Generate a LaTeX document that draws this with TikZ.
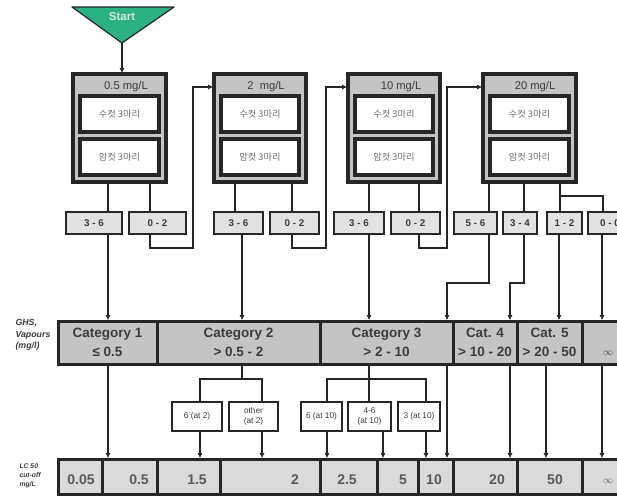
\documentclass[tikz,border=0pt]{standalone}
\usepackage{fontspec}
\setmainfont{Liberation Sans}
\newfontfamily\kofont{Noto Sans CJK KR}
\usetikzlibrary{arrows.meta}

\definecolor{lineclr}{HTML}{262626}
\definecolor{boxgrey}{HTML}{C4C4C4}
\definecolor{rangegrey}{HTML}{E2E2E2}
\definecolor{lcgrey}{HTML}{DADADA}
\definecolor{startgreen}{RGB}{44,178,130}
\definecolor{starttxt}{RGB}{215,232,224}
\definecolor{txt}{HTML}{3C3C3C}

\tikzset{
  conn/.style={draw=lineclr, line width=2.7pt},
  arr/.style={conn, -{Latex[length=5pt,width=5pt]}, shorten >=0.8pt},
  stagebox/.style={draw=lineclr, fill=boxgrey, line width=3.4pt},
  animalbox/.style={draw=lineclr, fill=white, line width=3.2pt,
    font=\kofont\fontsize{9.2}{10}\selectfont, text=txt!75},
  headtext/.style={font=\fontsize{11.2}{12}\selectfont, text=txt},
  rangebox/.style={draw=lineclr, fill=rangegrey, line width=2.9pt,
    font=\bfseries\fontsize{9.8}{11}\selectfont, text=txt},
  catbox/.style={draw=lineclr, fill=boxgrey, line width=3pt, align=center,
    font=\bfseries\fontsize{13.5}{18.5}\selectfont, text=txt},
  lcbox/.style={draw=lineclr, fill=lcgrey, line width=3pt},
  lctext/.style={font=\bfseries\fontsize{14}{15}\selectfont, text=txt!85},
  subbox/.style={draw=lineclr, fill=white, line width=2.7pt, align=center,
    font=\fontsize{8.3}{9.5}\selectfont, text=txt},
  sidelabel/.style={align=left, text=txt},
}

% rectangle node given by its top-left and bottom-right corners
\newcommand\mkcell[7][]{%
  \node[#1, anchor=north west, inner sep=0pt, outer sep=0pt,
        minimum width={(#5-#3)*1pt}, minimum height={(#6-#4)*1pt}]
        (#2) at (#3,#4) {#7};}

\begin{document}
\begin{tikzpicture}[x=1pt, y=-1pt]
\useasboundingbox (0,0) rectangle (617,496);
\fill[white] (0,0) rectangle (617,496);
\clip (0,0) rectangle (617,496);

% x positions of the vertical connectors
\foreach \xx in {108,150,200,235,242,262,292,327,369,383,419,426,447,489,510,524,546,559,560,602,603}
  \coordinate (x\xx) at (\xx,0);
% elbow points
\coordinate (j1) at (193,248);
\coordinate (j2) at (326,248);
\coordinate (j3) at (447,248);
\coordinate (j4) at (560,196);
\coordinate (j5) at (447,283);
\coordinate (j6) at (510,283);
\coordinate (j7) at (242,379);
\coordinate (j8) at (369,379);

% start marker
\path[fill=startgreen, draw=lineclr, line width=1.2pt, line join=round]
  (72,7) -- (174,7) -- (122,43) -- cycle;
\node[font=\bfseries\fontsize{11.5}{12}\selectfont, text=starttxt] (start) at (122,17) {Start};
\coordinate (apex) at (122,43);

% test stages
\mkcell[stagebox]{b1}{73}{74}{166}{182}{}
\mkcell[stagebox]{b2}{214}{74}{306}{182}{}
\mkcell[stagebox]{b3}{348}{74}{440}{182}{}
\mkcell[stagebox]{b4}{483}{74}{576}{182}{}
\node[headtext] (h1) at (126,87) {0.5 mg/L};
\node[headtext] (h2) at (266,87) {2\ \ mg/L};
\node[headtext] (h3) at (401,87) {10 mg/L};
\node[headtext] (h4) at (535,87) {20 mg/L};
\mkcell[animalbox]{m1}{80}{96}{159}{132}{수컷 3마리}
\mkcell[animalbox]{f1}{80}{139}{159}{175}{암컷 3마리}
\mkcell[animalbox]{m2}{221}{96}{299}{132}{수컷 3마리}
\mkcell[animalbox]{f2}{221}{139}{299}{175}{암컷 3마리}
\mkcell[animalbox]{m3}{355}{96}{433}{132}{수컷 3마리}
\mkcell[animalbox]{f3}{355}{139}{433}{175}{암컷 3마리}
\mkcell[animalbox]{m4}{490}{96}{569}{132}{수컷 3마리}
\mkcell[animalbox]{f4}{490}{139}{569}{175}{암컷 3마리}

% mortality ranges
\mkcell[rangebox]{r1a}{66}{212}{122}{234}{3 - 6}
\mkcell[rangebox]{r1b}{129}{212}{186}{234}{0 - 2}
\mkcell[rangebox]{r2a}{214}{212}{263}{234}{3 - 6}
\mkcell[rangebox]{r2b}{270}{212}{319}{234}{0 - 2}
\mkcell[rangebox]{r3a}{334}{212}{384}{234}{3 - 6}
\mkcell[rangebox]{r3b}{391}{212}{440}{234}{0 - 2}
\mkcell[rangebox]{r4a}{454}{212}{497}{234}{5 - 6}
\mkcell[rangebox]{r4b}{503}{212}{537}{234}{3 - 4}
\mkcell[rangebox]{r4c}{547}{212}{582}{234}{1 - 2}
\mkcell[rangebox]{r4d}{588}{212}{632}{234}{0 - 0}

% GHS categories
\mkcell[catbox]{k1}{58}{321}{157}{364}{Category 1\\≤ 0.5}
\mkcell[catbox]{k2}{157}{321}{320}{364}{Category 2\\> 0.5 - 2}
\mkcell[catbox]{k3}{320}{321}{453}{364}{Category 3\\> 2 - 10}
\mkcell[catbox]{k4}{453}{321}{517}{364}{Cat. 4\\> 10 - 20}
\mkcell[catbox]{k5}{517}{321}{582}{364}{Cat. 5\\> 20 - 50}
\mkcell[catbox]{k6}{582}{321}{640}{364}{}
\node[font=\bfseries\fontsize{10}{11}\selectfont, text=txt] (kinf) at (608,353) {$\infty$};

% deaths at a given concentration
\mkcell[subbox]{s2a}{172}{402}{222}{431}{6 (at 2)}
\mkcell[subbox]{s2b}{229}{402}{278}{431}{other\\(at 2)}
\mkcell[subbox]{s3a}{301}{402}{342}{431}{6 (at 10)}
\mkcell[subbox]{s3b}{348}{402}{391}{431}{4-6\\(at 10)}
\mkcell[subbox]{s3c}{398}{402}{440}{431}{3 (at 10)}

% LC50 cut-off values
\mkcell[lcbox]{l1}{58}{459}{102}{494}{}
\mkcell[lcbox]{l2}{102}{459}{157}{494}{}
\mkcell[lcbox]{l3}{157}{459}{220}{494}{}
\mkcell[lcbox]{l4}{220}{459}{320}{494}{}
\mkcell[lcbox]{l5}{320}{459}{377}{494}{}
\mkcell[lcbox]{l6}{377}{459}{418}{494}{}
\mkcell[lcbox]{l7}{418}{459}{453}{494}{}
\mkcell[lcbox]{l8}{453}{459}{517}{494}{}
\mkcell[lcbox]{l9}{517}{459}{582}{494}{}
\mkcell[lcbox]{l10}{582}{459}{640}{494}{}
\node[lctext] (v1) at (81,480) {0.05};
\node[lctext] (v2) at (139,480) {0.5};
\node[lctext] (v3) at (197,480) {1.5};
\node[lctext] (v4) at (295,480) {2};
\node[lctext] (v5) at (347,480) {2.5};
\node[lctext] (v6) at (403,480) {5};
\node[lctext] (v7) at (434,480) {10};
\node[lctext] (v8) at (497,480) {20};
\node[lctext] (v9) at (555,480) {50};
\node[lctext, font=\bfseries\fontsize{10}{11}\selectfont] (v10) at (608,481) {$\infty$};

% row labels
\node[sidelabel, anchor=north west, font=\bfseries\itshape\fontsize{8.8}{11.5}\selectfont] (ghs) at (12,316) {GHS,\\Vapours\\(mg/l)};
\node[sidelabel, anchor=north west, font=\bfseries\itshape\fontsize{6.8}{9}\selectfont] (lcl) at (16,460) {LC 50\\cut-off\\mg/L};

% ---- connectors ----
\draw[arr] (apex) -- (b1.north -| apex);

\draw[conn] (b1.south -| x108) -- (r1a.north -| x108);
\draw[conn] (b1.south -| x150) -- (r1b.north -| x150);
\draw[arr] (r1a.south -| x108) -- (k1.north -| x108);
\draw[arr] (r1b.south -| x150) |- (j1) |- (b2.west |- h2);

\draw[conn] (b2.south -| x235) -- (r2a.north -| x235);
\draw[conn] (b2.south -| x292) -- (r2b.north -| x292);
\draw[arr] (r2a.south -| x242) -- (k2.north -| x242);
\draw[arr] (r2b.south -| x292) |- (j2) |- (b3.west |- h3);

\draw[conn] (b3.south -| x369) -- (r3a.north -| x369);
\draw[conn] (b3.south -| x419) -- (r3b.north -| x419);
\draw[arr] (r3a.south -| x369) -- (k3.north -| x369);
\draw[arr] (r3b.south -| x419) |- (j3) |- (b4.west |- h4);

\draw[conn] (b4.south -| x489) -- (r4a.north -| x489);
\draw[conn] (b4.south -| x524) -- (r4b.north -| x524);
\draw[conn] (b4.south -| x560) -- (r4c.north -| x560);
\draw[conn] (j4) -| (r4d.north -| x603);
\draw[arr] (r4a.south -| x489) |- (j5) -- (k3.north -| j5);
\draw[arr] (r4b.south -| x524) |- (j6) -- (k4.north -| j6);
\draw[arr] (r4c.south -| x559) -- (k5.north -| x559);
\draw[arr] (r4d.south -| x602) -- (k6.north -| x602);

\draw[arr] (k1.south -| x108) -- (l2.north -| x108);
\draw[conn] (k2.south -| x242) -- (j7);
\draw[conn] (s2a.north -| x200) |- (j7) -| (s2b.north -| x262);
\draw[arr] (s2a.south -| x200) -- (l3.north -| x200);
\draw[arr] (s2b.south -| x262) -- (l4.north -| x262);

\draw[conn] (k3.south -| x369) -- (s3b.north -| x369);
\draw[conn] (s3a.north -| x327) |- (j8) -| (s3c.north -| x426);
\draw[arr] (s3a.south -| x327) -- (l5.north -| x327);
\draw[arr] (s3b.south -| x383) -- (l6.north -| x383);
\draw[arr] (s3c.south -| x426) -- (l7.north -| x426);

\draw[arr] (k3.south -| x447) -- (l7.north -| x447);
\draw[arr] (k4.south -| x510) -- (l8.north -| x510);
\draw[arr] (k5.south -| x546) -- (l9.north -| x546);
\draw[arr] (k6.south -| x602) -- (l10.north -| x602);
\end{tikzpicture}
\end{document}
